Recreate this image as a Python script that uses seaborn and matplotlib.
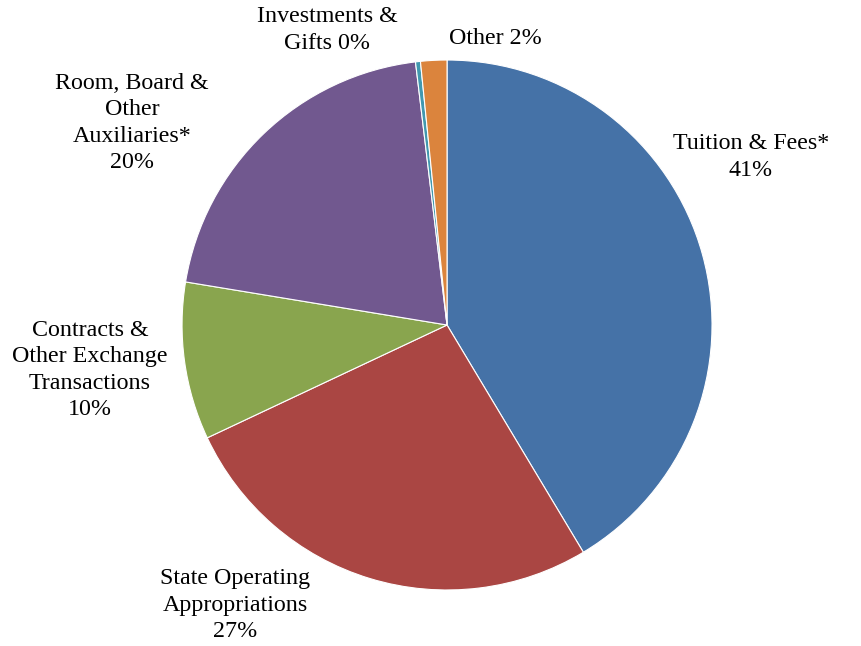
import matplotlib
matplotlib.use("Agg")
import matplotlib.pyplot as plt
import seaborn as sns

# revenue shares (percent), clockwise from 12 o'clock
categories = [
    "Tuition & Fees*\n41%",
    "State Operating\nAppropriations\n27%",
    "Contracts &\nOther Exchange\nTransactions\n10%",
    "Room, Board &\nOther\nAuxiliaries*\n20%",
    "Investments &\nGifts 0%",
    "Other 2%",
]
shares = [41.4, 26.6, 9.6, 20.5, 0.3, 1.6]
colors = ["#4572A7", "#AA4643", "#89A54E", "#71588F", "#4198AF", "#DB843D"]

# label centres in pie-radius units
label_xy = [(1.147, 0.634), (-0.800, -1.057), (-1.347, -0.170),
            (-1.189, 0.762), (-0.453, 1.113), (0.181, 1.083)]

sns.set_style("white")
plt.rcParams["font.family"] = ["Liberation Serif", "DejaVu Serif"]

fig = plt.figure(figsize=(8.61, 6.46), dpi=100)
ax = fig.add_axes([0.2114, 0.0867, 0.6156, 0.8204])

wedges, texts = ax.pie(
    shares, labels=categories, colors=colors, startangle=90,
    counterclock=False, wedgeprops={"edgecolor": "white", "linewidth": 0.8},
    textprops={"fontsize": 17.3, "color": "black"},
)
for t, (x, y) in zip(texts, label_xy):
    t.set_position((x, y))
    t.set_ha("center")
    t.set_va("center")
    t.set_multialignment("center")
    t.set_linespacing(1.34)

ax.set_xlim(-1, 1)
ax.set_ylim(-1, 1)
ax.set_aspect("equal")
ax.axis("off")

fig.savefig("out.png", dpi=100)
